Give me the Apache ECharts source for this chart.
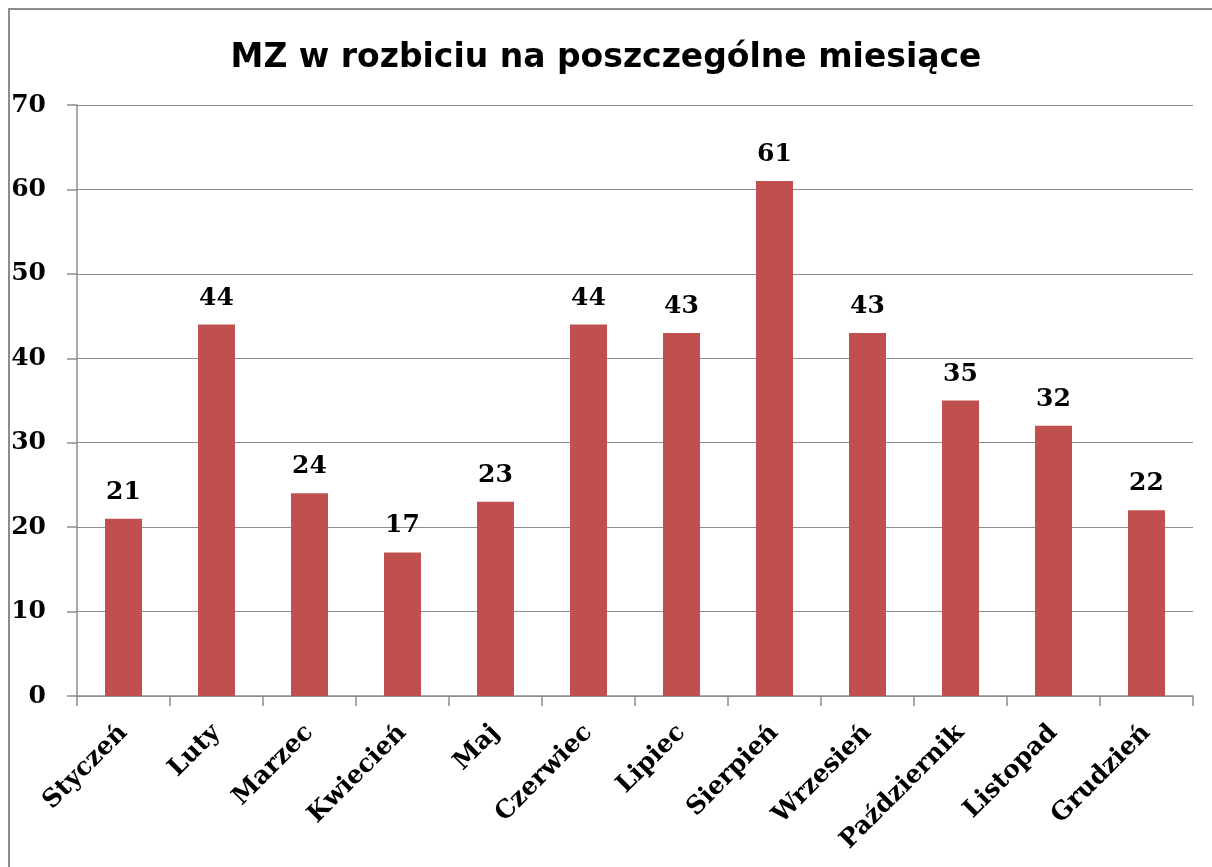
<!DOCTYPE html>
<html><head><meta charset="utf-8">
<script src="https://cdn.jsdelivr.net/npm/echarts@6/dist/echarts.min.js"></script>
<style>html,body{margin:0;padding:0;background:#fff;overflow:hidden}#c{width:1212px;height:867px}</style>
</head><body><div id="c"></div>
<script>
const categories = ["Styczeń","Luty","Marzec","Kwiecień","Maj","Czerwiec","Lipiec","Sierpień","Wrzesień","Październik","Listopad","Grudzień"];
const values = [21,44,24,17,23,44,43,61,43,35,32,22];
const titleText = "MZ w rozbiciu na poszczególne miesiące";
const serif = "'DejaVu Serif', serif";
const chart = echarts.init(document.getElementById('c'));
chart.setOption({
  animation:false,
  backgroundColor:'#fff',
  graphic:[{type:'rect',z:-1,shape:{x:9,y:9,width:1220,height:880},style:{fill:'none',stroke:'#8c8c8c',lineWidth:2},silent:true}],
  title:{text:titleText,left:'center',top:42,padding:0,textStyle:{fontFamily:"'DejaVu Sans', sans-serif",fontWeight:'bold',fontSize:33,lineHeight:33,color:'#000'}},
  grid:{left:77,right:19,top:105,bottom:171,containLabel:false},
  xAxis:{type:'category',data:categories,
    axisLine:{lineStyle:{color:'#8c8c8c',width:1.5}},
    axisTick:{show:true,length:10,lineStyle:{color:'#8c8c8c',width:1.5}},
    axisLabel:{rotate:45,margin:33,interval:0,fontFamily:serif,fontWeight:'bold',fontSize:25,color:'#000'}},
  yAxis:{type:'value',min:0,max:70,interval:10,
    axisLine:{show:true,lineStyle:{color:'#8c8c8c',width:1.5}},
    axisTick:{show:true,length:10,lineStyle:{color:'#8c8c8c',width:1.5}},
    splitLine:{lineStyle:{color:'#8c8c8c',width:1}},
    axisLabel:{margin:31,fontFamily:serif,fontWeight:'bold',fontSize:25,lineHeight:25,color:'#000'}},
  series:[{type:'bar',data:values,barWidth:37,itemStyle:{color:'#C0504D'},
    label:{show:true,position:'top',distance:14,fontFamily:serif,fontWeight:'bold',fontSize:25,color:'#000'}}]
});
</script></body></html>
